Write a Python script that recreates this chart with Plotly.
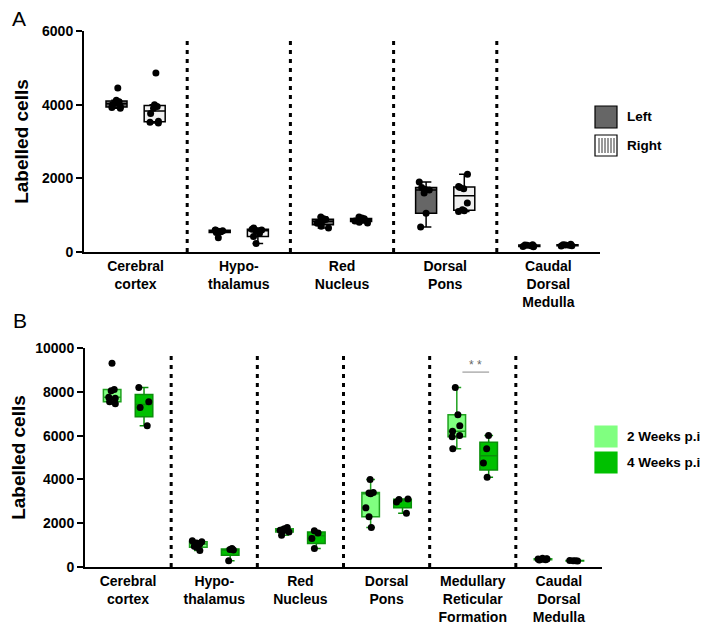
import plotly.graph_objects as go

W, H = 709, 644
OFF = 8  # page body margin of the html page

# ---- data ----
cats_a = ["Cerebral cortex", "Hypothalamus", "Red Nucleus", "Dorsal Pons", "Caudal Dorsal Medulla"]
labels_a = ["Cerebral<br>cortex", "Hypo-<br>thalamus", "Red<br>Nucleus", "Dorsal<br>Pons", "Caudal<br>Dorsal<br>Medulla"]
left_vals = [
    [4450, 4120, 4080, 4050, 4000, 3950, 3920, 3900],
    [600, 590, 580, 560, 550, 530, 390],
    [950, 900, 880, 850, 820, 780, 700, 650],
    [1900, 1750, 1700, 1680, 1600, 1050, 680],
    [200, 190, 180, 170, 160, 150, 140],
]
right_vals = [
    [4860, 4000, 3950, 3900, 3760, 3550, 3520, 3500],
    [650, 620, 600, 580, 500, 420, 230],
    [950, 920, 900, 880, 860, 840, 810, 790],
    [2110, 1780, 1750, 1720, 1330, 1150, 1120, 1100],
    [210, 200, 190, 180, 170, 160],
]

cats_b = ["Cerebral cortex", "Hypothalamus", "Red Nucleus", "Dorsal Pons",
          "Medullary Reticular Formation", "Caudal Dorsal Medulla"]
labels_b = ["Cerebral<br>cortex", "Hypo-<br>thalamus", "Red<br>Nucleus", "Dorsal<br>Pons",
            "Medullary<br>Reticular<br>Formation", "Caudal<br>Dorsal<br>Medulla"]
wk2_vals = [
    [9300, 8100, 8050, 7750, 7700, 7550, 7450],
    [1200, 1150, 1100, 1050, 950, 900, 750],
    [1800, 1750, 1700, 1680, 1650, 1600, 1450],
    [4000, 3400, 3380, 3350, 2700, 2300, 1800],
    [8200, 6950, 6450, 6200, 6000, 5950, 5400],
    [400, 380, 370, 360, 350, 330, 320],
]
wk4_vals = [
    [8200, 7550, 7280, 6450],
    [850, 800, 780, 290],
    [1650, 1550, 1300, 850],
    [3100, 3080, 2970, 2450],
    [6000, 5400, 4750, 4100],
    [300, 290, 280, 270],
]

FONT = "Liberation Sans, Arial, sans-serif"


def px_x(x):
    return (x - OFF) / W


def px_y(y):
    return 1 - (y - OFF) / H


def flat(cats, vals):
    xs, ys = [], []
    for c, v in zip(cats, vals):
        xs += [c] * len(v)
        ys += v
    return xs, ys


def box(cats, vals, name, fill, line, xa, ya, group):
    xs, ys = flat(cats, vals)
    return go.Box(
        x=xs, y=ys, name=name, xaxis=xa, yaxis=ya, offsetgroup=group,
        fillcolor=fill, line=dict(color=line, width=1.5),
        boxpoints="all", pointpos=0, jitter=0.7,
        marker=dict(color="black", size=7),
        quartilemethod="exclusive", whiskerwidth=0.5,
        showlegend=False,
    )


fig = go.Figure()
fig.add_trace(box(cats_a, left_vals, "Left", "#666666", "black", "x", "y", "g1"))
fig.add_trace(box(cats_a, right_vals, "Right", "#f0f0f0", "black", "x", "y", "g2"))
fig.add_trace(box(cats_b, wk2_vals, "2 Weeks p.i", "#80ff80", "#1fa11f", "x2", "y2", "g1"))
fig.add_trace(box(cats_b, wk4_vals, "4 Weeks p.i", "#00c000", "#0a8f0a", "x2", "y2", "g2"))

tickfont = dict(family=FONT, size=14, color="black", weight="bold")
yfont = dict(family=FONT, size=14, color="black", weight="bold")

xcommon = dict(type="category", showline=True, linecolor="black", linewidth=2,
               ticks="", showgrid=False, tickfont=tickfont, fixedrange=True, automargin=False)
ycommon = dict(showline=True, linecolor="black", linewidth=2, ticks="outside",
               ticklen=6, tickwidth=2, tickcolor="black", showgrid=False, zeroline=False,
               tickfont=yfont, tickformat="d", automargin=False,
               title=dict(text="Labelled cells", font=dict(family=FONT, size=19, color="black", weight="bold"),
                          standoff=8))

fig.update_layout(
    width=W, height=H, margin=dict(l=0, r=0, t=0, b=0, autoexpand=False),
    paper_bgcolor="white", plot_bgcolor="white",
    boxmode="group", boxgap=0.26, boxgroupgap=0.45,
    showlegend=False,
    xaxis=dict(xcommon, domain=[px_x(84), px_x(600)], anchor="y",
               categoryorder="array", categoryarray=cats_a,
               tickvals=cats_a, ticktext=labels_a, range=[-0.5, len(cats_a) - 0.5]),
    yaxis=dict(ycommon, domain=[px_y(252), px_y(31)], anchor="x", range=[0, 6000],
               tickvals=[0, 2000, 4000, 6000]),
    xaxis2=dict(xcommon, domain=[px_x(85), px_x(602)], anchor="y2",
                categoryorder="array", categoryarray=cats_b,
                tickvals=cats_b, ticktext=labels_b, range=[-0.5, len(cats_b) - 0.5]),
    yaxis2=dict(ycommon, domain=[px_y(567), px_y(348)], anchor="x2", range=[0, 10000],
                tickvals=[0, 2000, 4000, 6000, 8000, 10000]),
)

# dashed dividers between regions
for i in range(len(cats_a) - 1):
    fig.add_shape(type="line", xref="x", yref="y", x0=i + 0.5, x1=i + 0.5, y0=0, y1=5800,
                  line=dict(color="black", width=3, dash="4px,5px"))
for i in range(len(cats_b) - 1):
    fig.add_shape(type="line", xref="x2", yref="y2", x0=i + 0.5, x1=i + 0.5, y0=0, y1=9800,
                  line=dict(color="black", width=3, dash="4px,5px"))

# significance bar
fig.add_shape(type="line", xref="x2", yref="y2", x0=3.88, x1=4.19, y0=8900, y1=8900,
              line=dict(color="#888888", width=1))
fig.add_annotation(x=4.035, y=8900, xref="x2", yref="y2", text="* *", showarrow=False,
                   yanchor="bottom", yshift=-2, font=dict(family=FONT, size=12, color="#666666"))


# legends drawn by hand
def legend_item(y0, y1, fill, text, vlines=False):
    fig.add_shape(type="rect", xref="paper", yref="paper",
                  x0=px_x(595), x1=px_x(617), y0=px_y(y1), y1=px_y(y0),
                  fillcolor=fill, line=dict(color="black" if fill in ("#666666", "white") else fill, width=1.2))
    if vlines:
        for k in range(6):
            xx = 599 + k * 3
            fig.add_shape(type="line", xref="paper", yref="paper",
                          x0=px_x(xx), x1=px_x(xx), y0=px_y(y1 - 3), y1=px_y(y0 + 3),
                          line=dict(color="#333333", width=1))
    fig.add_annotation(x=px_x(625), y=px_y((y0 + y1) / 2), xref="paper", yref="paper",
                       text=text, showarrow=False, xanchor="left", yanchor="middle",
                       font=dict(family=FONT, size=13.5, color="black", weight="bold"))


legend_item(106, 128, "#666666", "Left")
legend_item(135, 156, "white", "Right", vlines=True)
legend_item(426, 447, "#80ff80", "2 Weeks p.i")
legend_item(452, 473, "#00c000", "4 Weeks p.i")

# panel letters
fig.add_annotation(x=px_x(11), y=1, xref="paper", yref="paper", text="A", showarrow=False,
                   xanchor="left", yanchor="top", borderpad=0, yshift=2,
                   font=dict(family=FONT, size=21, color="black"))
fig.add_annotation(x=px_x(11), y=px_y(320), xref="paper", yref="paper", text="B", showarrow=False,
                   xanchor="left", yanchor="middle", font=dict(family=FONT, size=21, color="black"))

fig.write_html("out.html")
